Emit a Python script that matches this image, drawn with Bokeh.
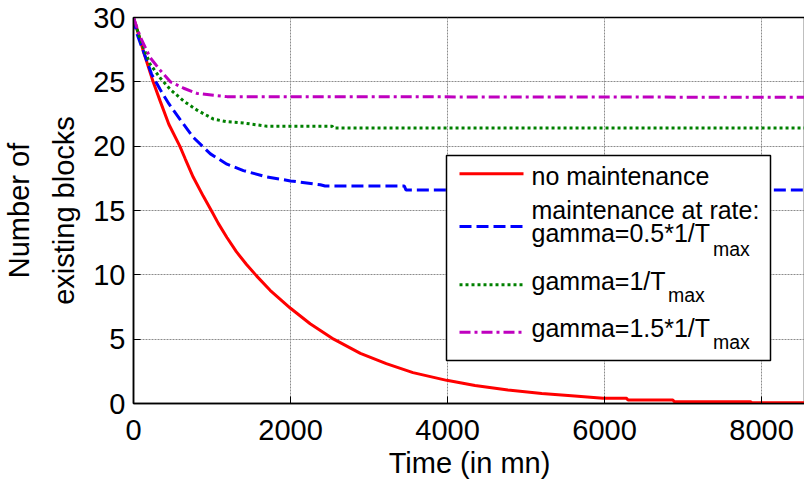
from bokeh.plotting import figure
from bokeh.models import Range1d, FixedTicker, BoxAnnotation, Label, Arrow
from bokeh.embed import file_html
from bokeh.resources import INLINE

# ---- data ----
t_none = [0, 130, 250, 340, 450, 590, 660, 760, 890, 1000, 1080, 1190, 1310, 1440, 1570,
          1740, 2000, 2250, 2550, 2890, 3220, 3560, 3990, 4350, 4770, 5200, 5620, 5980,
          6280, 6300, 6870, 6890, 7860, 7880, 8600]
y_none = [30, 27.3, 25.0, 23.5, 21.7, 20.0, 19.0, 17.6, 16.1, 14.9, 14.0, 12.9, 11.8, 10.8, 9.9,
          8.8, 7.4, 6.2, 5.0, 3.9, 3.1, 2.4, 1.8, 1.4, 1.05, 0.78, 0.58, 0.40,
          0.40, 0.27, 0.27, 0.14, 0.14, 0.05, 0.05]

t_g05 = [0, 40, 130, 230, 340, 450, 590, 760, 980, 1190, 1400, 1700, 2000, 2380, 2440,
         3450, 3470, 8600]
y_g05 = [30, 28.8, 27.3, 25.6, 24.4, 23.3, 22.1, 20.7, 19.4, 18.6, 18.1, 17.6, 17.3, 17.0, 16.9,
         16.9, 16.6, 16.6]

t_g10 = [0, 85, 210, 340, 470, 640, 810, 1020, 1190, 1400, 1700, 2530, 2545, 8600]
y_g10 = [30, 28.3, 26.4, 25.3, 24.4, 23.5, 22.8, 22.1, 21.9, 21.8, 21.55, 21.55, 21.42, 21.42]

t_g15 = [0, 85, 210, 340, 470, 640, 810, 1020, 1190, 8600]
y_g15 = [30, 28.5, 26.9, 25.9, 25.0, 24.5, 24.1, 23.95, 23.85, 23.8]

x_ticks = [0, 2000, 4000, 6000, 8000]
y_ticks = [0, 5, 10, 15, 20, 25, 30]

legend_labels = ["no maintenance", "maintenance at rate:", "gamma=0.5*1/T", "gamma=1/T", "gamma=1.5*1/T"]
sub_label = "max"

RED, BLUE, GREEN, MAG = "#FF0000", "#0000FF", "#008000", "#BF00BF"
FONT = "Liberation Sans"

p = figure(frame_width=672, frame_height=386, output_backend="svg", toolbar_location=None,
           title=None, x_range=Range1d(0, 8560), y_range=Range1d(0, 30),
           min_border_left=124, min_border_right=0, min_border_top=17, min_border_bottom=78,
           background_fill_color="white", border_fill_color="white")

p.outline_line_color = "black"
p.outline_line_width = 1.5
p.outline_line_alpha = 1.0

for ax in (p.xaxis[0], p.yaxis[0]):
    ax.axis_line_color = "black"
    ax.axis_line_width = 1.5
    ax.major_tick_in = 7
    ax.major_tick_out = 0
    ax.major_tick_line_color = "black"
    ax.minor_tick_line_color = None
    ax.major_label_text_font = FONT
    ax.major_label_text_font_size = "29px"
    ax.major_label_text_color = "black"
    ax.axis_label_text_font = FONT
    ax.axis_label_text_font_size = "29px"
    ax.axis_label_text_font_style = "normal"
    ax.axis_label_text_color = "black"

p.xaxis[0].ticker = FixedTicker(ticks=x_ticks)
p.yaxis[0].ticker = FixedTicker(ticks=y_ticks)
p.xaxis[0].axis_label = "Time (in mn)"
p.yaxis[0].axis_label = "Number of\nexisting blocks"
p.xaxis[0].major_label_standoff = 16
p.xaxis[0].axis_label_standoff = 4
p.yaxis[0].major_label_standoff = 8
p.yaxis[0].axis_label_standoff = 10
p.yaxis[0].axis_label_text_line_height = 1.4

for g in (p.xgrid[0], p.ygrid[0]):
    g.grid_line_color = "#8C8C8C"
    g.grid_line_width = 1
    g.grid_line_dash = "2 1"

p.line(t_none, y_none, line_color=RED, line_width=3)
p.line(t_g05, y_g05, line_color=BLUE, line_width=3, line_dash="12 5")
p.line(t_g10, y_g10, line_color=GREEN, line_width=3, line_dash="3 3")
p.line(t_g15, y_g15, line_color=MAG, line_width=3, line_dash="11 4 3 4")

# ---- manual legend (screen units relative to frame bottom-left) ----
p.add_layout(BoxAnnotation(left=313, right=637, bottom=43, top=248,
                           left_units="screen", right_units="screen",
                           bottom_units="screen", top_units="screen",
                           fill_color="white", fill_alpha=1.0,
                           line_color="black", line_width=1.5, line_alpha=1.0))

samples = [(229.7, RED, "solid"), (177, BLUE, "12 5"), (118.7, GREEN, "3 3"), (71.3, MAG, "11 4 3 4")]
for sy, col, dash in samples:
    p.add_layout(Arrow(end=None, x_start=326, y_start=sy, x_end=390, y_end=sy,
                       start_units="screen", end_units="screen",
                       line_color=col, line_width=3, line_dash=dash))

texts = [(legend_labels[0], 398, 228), (legend_labels[1], 398, 194), (legend_labels[2], 398, 171),
         (legend_labels[3], 398, 123), (legend_labels[4], 398, 75.5)]
for txt, sx, sy in texts:
    p.add_layout(Label(x=sx, y=sy, x_units="screen", y_units="screen", text=txt,
                       text_font=FONT, text_font_size="25px", text_color="black",
                       text_baseline="alphabetic", text_align="left"))

subs = [(579.5, 155), (534.5, 108.3), (579.5, 61.7)]
for sx, sy in subs:
    p.add_layout(Label(x=sx, y=sy, x_units="screen", y_units="screen", text=sub_label,
                       text_font=FONT, text_font_size="19.5px", text_color="black",
                       text_baseline="alphabetic", text_align="left"))

open("out.html", "w").write(file_html(p, INLINE))
